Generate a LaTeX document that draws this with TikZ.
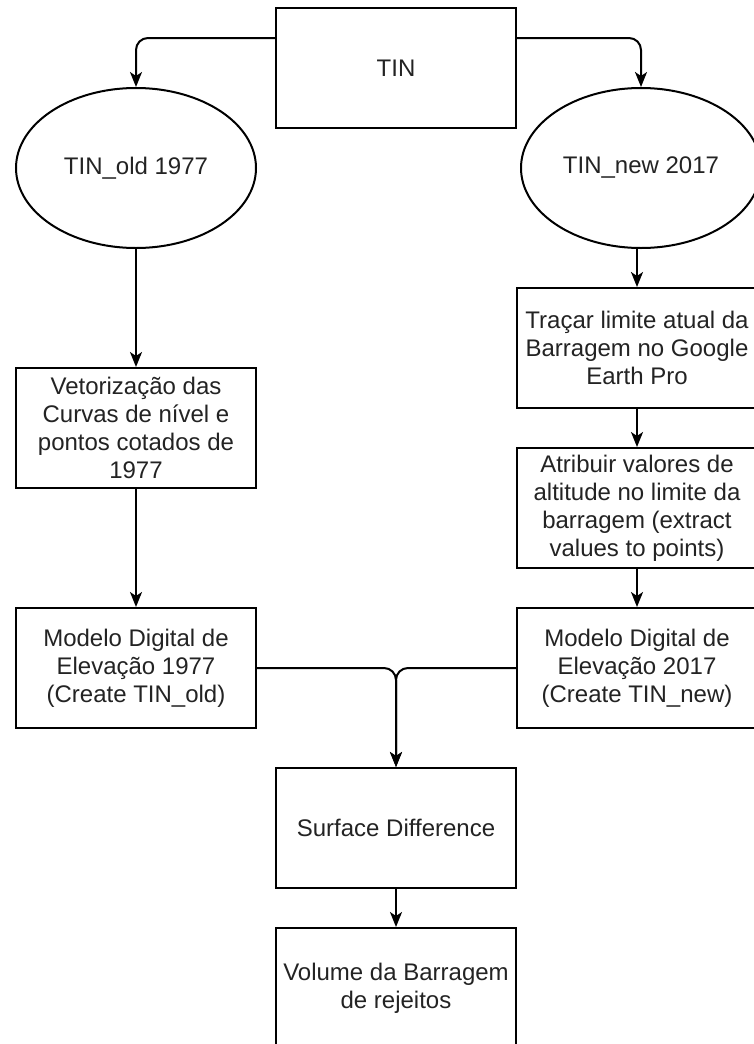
\documentclass[tikz,border=0pt]{standalone}
\usepackage{fontspec}
\setmainfont{Liberation Sans}
\usetikzlibrary{shapes.geometric,arrows.meta}
\definecolor{txt}{RGB}{35,35,35}
\begin{document}
\begin{tikzpicture}[x=1pt,y=-1pt,
  box/.style={draw=black,line width=2pt,rectangle,minimum width=240pt,minimum height=120pt,inner sep=0pt,align=center,font=\fontsize{24}{28}\selectfont,text=txt},
  oval/.style={draw=black,line width=2pt,ellipse,minimum width=240pt,minimum height=160pt,inner sep=0pt,align=center,font=\fontsize{24}{28}\selectfont,text=txt},
  arr/.style={line width=2pt,-{Stealth[length=15pt,width=12pt,inset=4pt]}},
  conn/.style={arr,rounded corners=12pt}]
\useasboundingbox[fill=white] (0,0) rectangle (754,1044);

\node[box] (tin) at (396,68) {TIN};
\node[oval] (oldE) at (136,168) {TIN\_old 1977};
\node[oval] (newE) at (641,168) {TIN\_new 2017};

\node[box] (vet) at (136,428) {Vetorização das\\Curvas de nível e\\pontos cotados de\\1977};
\node[box] (m77) at (136,668) {Modelo Digital de\\Elevação 1977\\(Create TIN\_old)};

\node[box] (trac) at (637,348) {Traçar limite atual da\\Barragem no Google\\Earth Pro};
\node[box] (atr) at (637,508) {Atribuir valores de\\altitude no limite da\\barragem (extract\\values to points)};
\node[box] (m17) at (637,668) {Modelo Digital de\\Elevação 2017\\(Create TIN\_new)};

\node[box] (sd) at (396,828) {Surface Difference};
\node[box] (vol) at (396,988) {Volume da Barragem\\de rejeitos};

\coordinate (tl) at ([yshift=30pt]tin.west);
\coordinate (tr) at ([yshift=30pt]tin.east);
\draw[conn] (tl) -- (tl -| oldE.north) -- (oldE.north);
\draw[conn] (tr) -- (tr -| newE.north) -- (newE.north);

\draw[arr] (oldE.south) -- (vet.north);
\draw[arr] (vet.south) -- (m77.north);
\draw[arr] (newE.south -| trac.north) -- (trac.north);
\draw[arr] (trac.south) -- (atr.north);
\draw[arr] (atr.south) -- (m17.north);

\draw[conn] (m77.east) -- (m77.east -| sd.north) -- (sd.north);
\draw[conn] (m17.west) -- (m17.west -| sd.north) -- (sd.north);
\draw[arr] (sd.south) -- (vol.north);
\end{tikzpicture}
\end{document}
